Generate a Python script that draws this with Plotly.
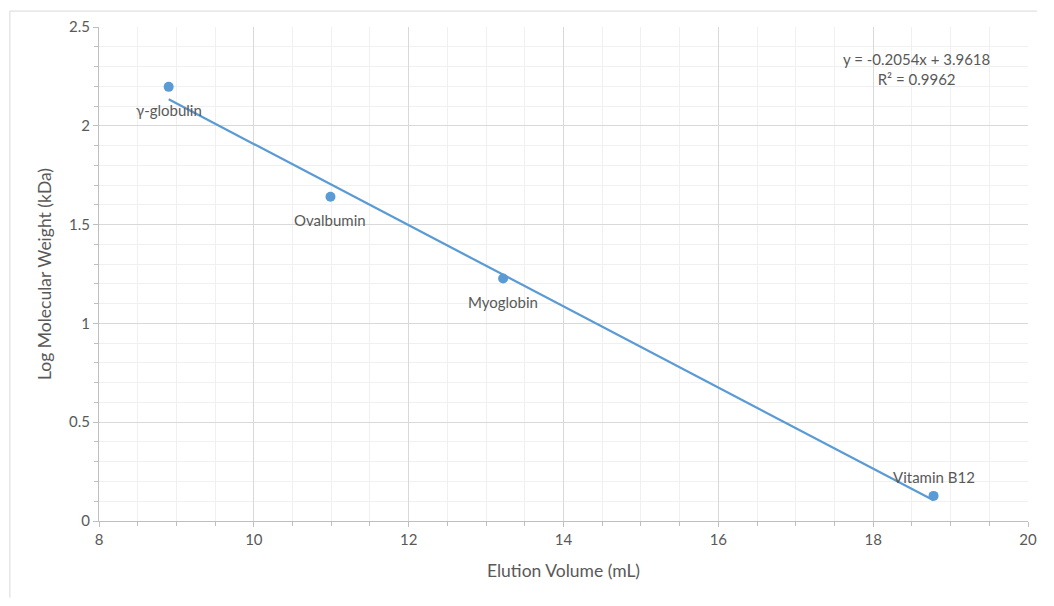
import plotly.graph_objects as go

# Data
proteins = ["γ-globulin", "Ovalbumin", "Myoglobin", "Vitamin B12"]
elution_volume = [8.90, 10.99, 13.22, 18.78]
log_mw = [2.197, 1.641, 1.227, 0.127]
label_above = [False, False, False, True]

trend_slope = -0.2054
trend_intercept = 3.9618
trend_text = "y = -0.2054x + 3.9618<br>R² = 0.9962"

x_range = [8, 20]
y_range = [0, 2.5]

# page has an 8px body margin, so the figure is 1054-16 by 606-16
W, H = 1038, 590
L, R, T, B = 91, 9, 17, 77
pw = W - L - R
ph = H - T - B

trend_x = [min(elution_volume), max(elution_volume)]
trend_y = [trend_slope * v + trend_intercept for v in trend_x]

FONT = "Lato, Open Sans, sans-serif"
font_color = "#595959"

fig = go.Figure()
fig.add_trace(go.Scatter(x=trend_x, y=trend_y, mode="lines",
                         line=dict(color="#5B9BD5", width=2.25),
                         hoverinfo="skip", showlegend=False))
fig.add_trace(go.Scatter(x=elution_volume, y=log_mw, mode="markers",
                         marker=dict(color="#5B9BD5", size=10),
                         showlegend=False))

for name, xv, yv, above in zip(proteins, elution_volume, log_mw, label_above):
    fig.add_annotation(x=xv, y=yv, text=name, showarrow=False,
                       xanchor="center", yanchor="middle",
                       yshift=19 if above else -23,
                       font=dict(family=FONT, size=15, color=font_color))

fig.add_annotation(xref="paper", yref="paper",
                   x=(924 - 8 - L) / pw, y=1 - (67 - 8 - T) / ph,
                   xanchor="center", yanchor="middle",
                   text=trend_text, showarrow=False, align="center",
                   font=dict(family=FONT, size=15, color=font_color))

# outer chart border (top and left visible)
bx0 = (1 - L) / pw
by1 = 1 + (T - 1) / ph
fig.add_shape(type="line", xref="paper", yref="paper",
              x0=bx0, x1=(W - L) / pw, y0=by1, y1=by1,
              line=dict(color="#D9D9D9", width=1))
fig.add_shape(type="line", xref="paper", yref="paper",
              x0=bx0, x1=bx0, y0=-(B) / ph, y1=by1,
              line=dict(color="#D9D9D9", width=1))

axis_common = dict(
    showgrid=True, gridcolor="#D9D9D9", gridwidth=1,
    showline=True, linecolor="#BFBFBF", linewidth=1,
    ticks="outside", ticklen=5, tickcolor="#BFBFBF",
    tickfont=dict(family=FONT, size=15, color=font_color),
    zeroline=False,
)

fig.update_xaxes(range=x_range, dtick=2, tick0=8,
                 minor=dict(dtick=0.5, showgrid=True, gridcolor="#F0F0F0",
                            ticks="outside", ticklen=4, tickcolor="#BFBFBF"),
                 title=dict(text="Elution Volume (mL)", standoff=17,
                            font=dict(family=FONT, size=17.5, color=font_color)),
                 **axis_common)
fig.update_yaxes(range=y_range, dtick=0.5, tick0=0,
                 minor=dict(dtick=0.1, showgrid=True, gridcolor="#F0F0F0",
                            ticks="outside", ticklen=4, tickcolor="#BFBFBF"),
                 title=dict(text="Log Molecular Weight (kDa)", standoff=12,
                            font=dict(family=FONT, size=17.5, color=font_color)),
                 **axis_common)

fig.update_layout(width=W, height=H, margin=dict(l=L, r=R, t=T, b=B),
                  plot_bgcolor="white", paper_bgcolor="white")

fig.write_html("out.html")
